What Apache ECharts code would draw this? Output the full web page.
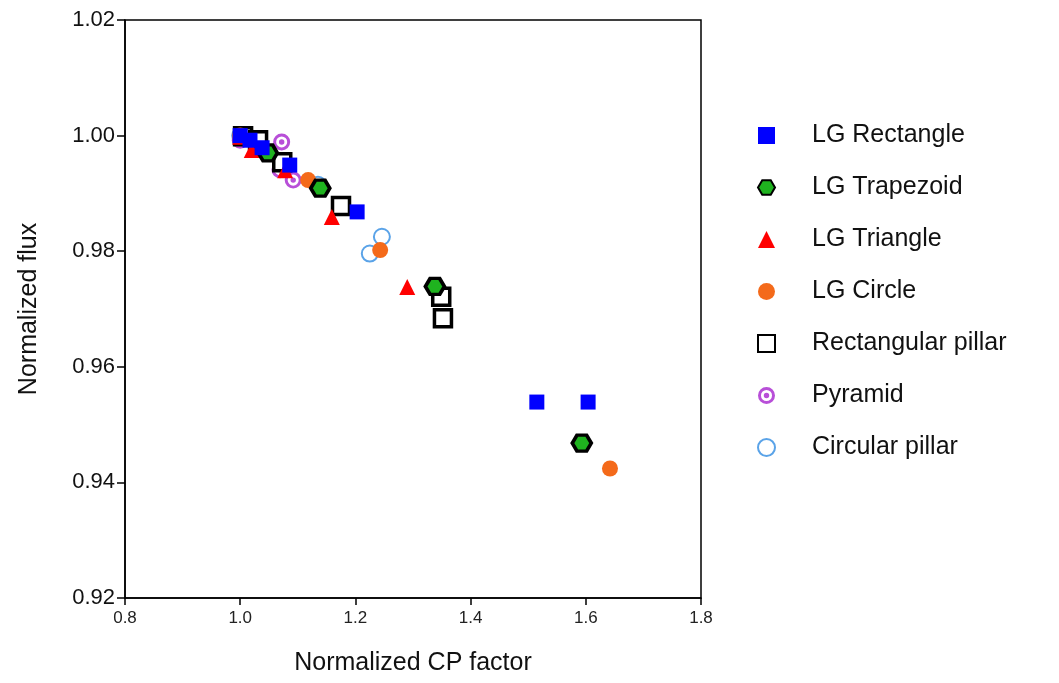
<!DOCTYPE html>
<html>
<head>
<meta charset="utf-8">
<script src="https://cdn.jsdelivr.net/npm/echarts@6/dist/echarts.min.js"></script>
<style>
  html, body { margin: 0; padding: 0; background: #fff; }
  #chart { width: 1059px; height: 683px; }
</style>
</head>
<body>
<div id="chart"></div>
<script>
// values: [CP factor, flux]
var lgRectangle = [[1.000, 1.0000], [1.017, 0.9992], [1.038, 0.9979], [1.086, 0.9949], [1.203, 0.9868], [1.515, 0.9539], [1.604, 0.9539]];
var lgTrapezoid = [[1.048, 0.9970], [1.139, 0.9909], [1.338, 0.9739], [1.593, 0.9468]];
var lgTriangle = [[1.000, 0.9998], [1.020, 0.9975], [1.078, 0.9940], [1.159, 0.9859], [1.290, 0.9738]];
var lgCircle = [[1.000, 1.0000], [1.118, 0.9923], [1.243, 0.9802], [1.642, 0.9424]];
var rectPillar = [[1.005, 0.9999], [1.031, 0.9992], [1.073, 0.9954], [1.175, 0.9878], [1.349, 0.9721], [1.352, 0.9684]];
var pyramid = [[1.000, 0.9992], [1.072, 0.9989], [1.069, 0.9941], [1.092, 0.9923]];
var circPillar = [[1.000, 1.0000], [1.135, 0.9915], [1.246, 0.9825], [1.225, 0.9796]];

var seriesNames = ["LG Rectangle", "LG Trapezoid", "LG Triangle", "LG Circle", "Rectangular pillar", "Pyramid", "Circular pillar"];

var hexPath = 'path://M-10 0L-5 -8.66L5 -8.66L10 0L5 8.66L-5 8.66Z';
// ring with a dot in the middle (nonzero fill)
var ringDotPath = 'path://M0 -10A10 10 0 1 1 0 10A10 10 0 1 1 0 -10Z' +
  'M0 -6.5A6.5 6.5 0 1 0 0 6.5A6.5 6.5 0 1 0 0 -6.5Z' +
  'M0 -3.2A3.2 3.2 0 1 1 0 3.2A3.2 3.2 0 1 1 0 -3.2Z';

var font = '"Liberation Sans", Arial, sans-serif';

var chart = echarts.init(document.getElementById('chart'));

function mk(name, data, symbol, size, style, z) {
  style.opacity = 1;
  return {
    name: name,
    type: 'scatter',
    data: data,
    symbol: symbol,
    symbolSize: size,
    itemStyle: style,
    z: z,
    emphasis: { disabled: true }
  };
}

var option = {
  animation: false,
  backgroundColor: '#fff',
  grid: {
    left: 125, right: 358, top: 20, bottom: 85,
    show: true, borderColor: '#000', borderWidth: 1.5, backgroundColor: 'transparent'
  },
  legend: {
    orient: 'vertical',
    left: 752,
    top: 118,
    itemGap: 27,
    itemWidth: 17,
    itemHeight: 17,
    data: seriesNames,
    textStyle: { fontFamily: font, fontSize: 25, color: '#111', padding: [0, 0, 0, 32] }
  },
  xAxis: {
    type: 'value',
    min: 0.8, max: 1.8, interval: 0.2,
    name: 'Normalized CP factor',
    nameLocation: 'middle',
    nameGap: 53,
    nameTextStyle: { fontFamily: font, fontSize: 25, color: '#111' },
    axisLine: { lineStyle: { color: '#000', width: 1.5 } },
    axisTick: { show: true, inside: false, length: 7, lineStyle: { color: '#000', width: 1.5 } },
    axisLabel: { fontFamily: font, fontSize: 17, color: '#222', margin: 12,
      formatter: function (v) { return v.toFixed(1); } },
    splitLine: { show: false }
  },
  yAxis: {
    type: 'value',
    min: 0.92, max: 1.02, interval: 0.02,
    name: 'Normalized flux',
    nameLocation: 'middle',
    nameGap: 83,
    nameTextStyle: { fontFamily: font, fontSize: 25, color: '#111' },
    axisLine: { lineStyle: { color: '#000', width: 1.5 } },
    axisTick: { show: true, inside: false, length: 8, lineStyle: { color: '#000', width: 1.5 } },
    axisLabel: { fontFamily: font, fontSize: 22, color: '#111', margin: 10,
      formatter: function (v) { return v.toFixed(2); } },
    splitLine: { show: false }
  },
  series: [
    mk(seriesNames[0], lgRectangle, 'rect', 15, { color: '#0000ff' }, 9),
    mk(seriesNames[1], lgTrapezoid, hexPath, [19, 16], { color: '#1fb31f', borderColor: '#000', borderWidth: 3.5 }, 8),
    mk(seriesNames[2], lgTriangle, 'triangle', 16, { color: '#ff0000' }, 7),
    mk(seriesNames[3], lgCircle, 'circle', 16, { color: '#f46a1a' }, 6),
    mk(seriesNames[4], rectPillar, 'rect', 17, { color: '#fff', borderColor: '#000', borderWidth: 3.5 }, 5),
    mk(seriesNames[5], pyramid, ringDotPath, 17, { color: '#b84fd8' }, 4),
    mk(seriesNames[6], circPillar, 'emptyCircle', 16, { color: '#5aa3e8', borderColor: '#5aa3e8', borderWidth: 3 }, 3)
  ]
};

chart.setOption(option);
</script>
</body>
</html>
